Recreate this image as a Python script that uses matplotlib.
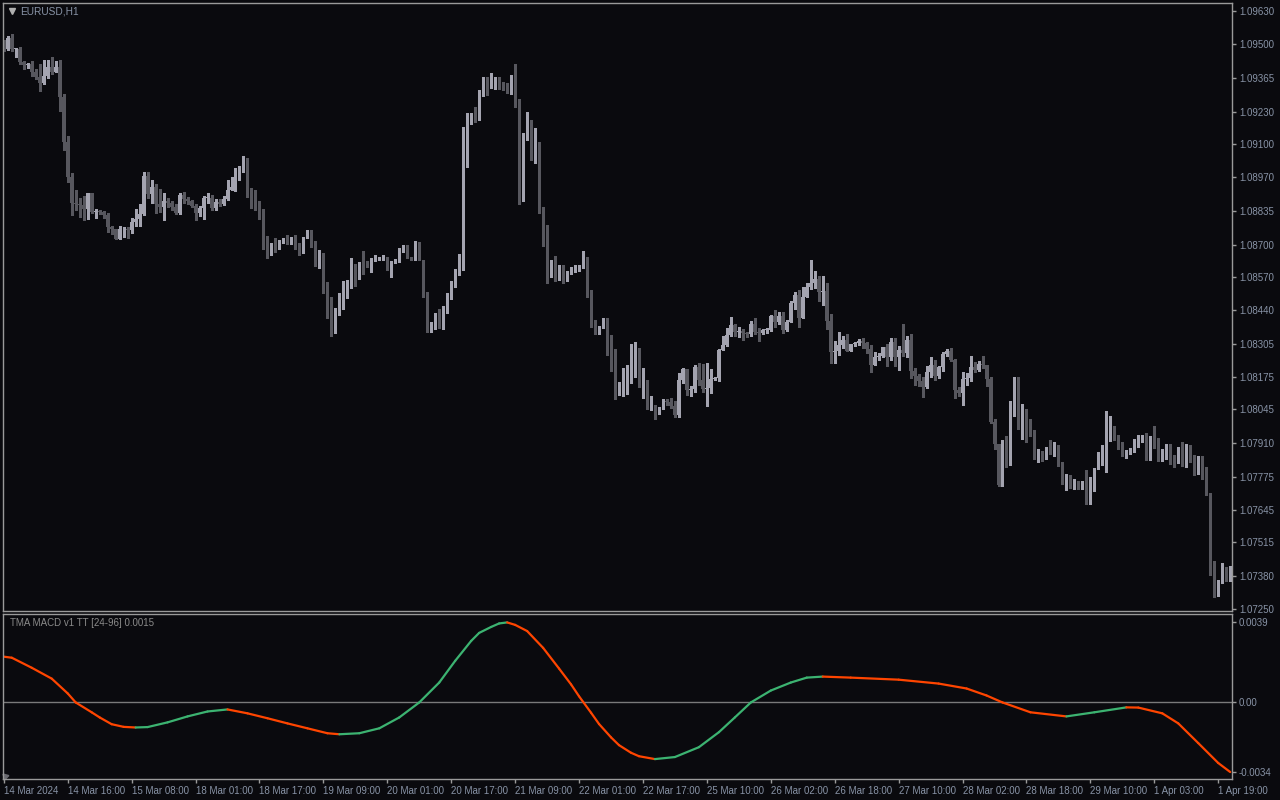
import numpy as np
import matplotlib
matplotlib.use("Agg")
import matplotlib.pyplot as plt

# === 1. Data (EURUSD H1) ===
first_open = 1.09503
close = [
    1.09479, 1.09522, 1.09479, 1.09479, 1.09427, 1.09415, 1.09419, 1.09387, 1.09367, 1.09343,
    1.09371, 1.09407, 1.09387, 1.09407, 1.09287, 1.09108, 1.08968, 1.08865, 1.08861, 1.08857,
    1.08841, 1.08905, 1.08829, 1.08833, 1.08829, 1.08817, 1.08769, 1.08761, 1.08721, 1.08761,
    1.08761, 1.08757, 1.08789, 1.08801, 1.08821, 1.08972, 1.08901, 1.08928, 1.08861, 1.08849,
    1.08873, 1.08865, 1.08849, 1.08825, 1.08897, 1.08881, 1.08873, 1.08853, 1.08825, 1.08845,
    1.08885, 1.08885, 1.08845, 1.08869, 1.08861, 1.08881, 1.08916, 1.08928, 1.08984, 1.08992,
    1.09016, 1.08908, 1.08877, 1.08845, 1.08841, 1.08713, 1.08673, 1.08701, 1.08685, 1.08709,
    1.08717, 1.08705, 1.08725, 1.08681, 1.08669, 1.08725, 1.08733, 1.08693, 1.08629, 1.08665,
    1.08538, 1.08462, 1.08354, 1.08434, 1.08494, 1.08510, 1.08534, 1.08617, 1.08573, 1.08625,
    1.08617, 1.08613, 1.08641, 1.08645, 1.08645, 1.08645, 1.08605, 1.08637, 1.08637, 1.08681,
    1.08689, 1.08653, 1.08645, 1.08693, 1.08641, 1.08510, 1.08378, 1.08390, 1.08418, 1.08414,
    1.08442, 1.08490, 1.08538, 1.08597, 1.08625, 1.09136, 1.09204, 1.09220, 1.09196, 1.09315,
    1.09367, 1.09323, 1.09343, 1.09347, 1.09339, 1.09319, 1.09303, 1.09371, 1.09275, 1.08905,
    1.09124, 1.09188, 1.09088, 1.09108, 1.08845, 1.08777, 1.08594, 1.08602, 1.08566, 1.08617,
    1.08558, 1.08586, 1.08605, 1.08609, 1.08609, 1.08645, 1.08494, 1.08378, 1.08370, 1.08374,
    1.08406, 1.08291, 1.08235, 1.08107, 1.08155, 1.08155, 1.08159, 1.08255, 1.08287, 1.08139,
    1.08151, 1.08047, 1.08051, 1.08027, 1.08047, 1.08079, 1.08075, 1.08059, 1.08023, 1.08163,
    1.08207, 1.08123, 1.08127, 1.08215, 1.08163, 1.08127, 1.08131, 1.08167, 1.08171, 1.08279,
    1.08299, 1.08342, 1.08382, 1.08354, 1.08358, 1.08350, 1.08346, 1.08386, 1.08354, 1.08350,
    1.08362, 1.08362, 1.08418, 1.08394, 1.08418, 1.08362, 1.08394, 1.08466, 1.08498, 1.08410,
    1.08490, 1.08530, 1.08546, 1.08562, 1.08510, 1.08514, 1.08398, 1.08271, 1.08275, 1.08299,
    1.08322, 1.08275, 1.08306, 1.08310, 1.08318, 1.08310, 1.08283, 1.08223, 1.08251, 1.08255,
    1.08291, 1.08251, 1.08314, 1.08251, 1.08279, 1.08267, 1.08322, 1.08199, 1.08179, 1.08159,
    1.08135, 1.08195, 1.08223, 1.08179, 1.08215, 1.08263, 1.08275, 1.08243, 1.08123, 1.08111,
    1.08167, 1.08171, 1.08215, 1.08203, 1.08227, 1.08223, 1.08167, 1.07995, 1.07908, 1.07744,
    1.07884, 1.07828, 1.08075, 1.08103, 1.07991, 1.08003, 1.07983, 1.07951, 1.07862, 1.07870,
    1.07854, 1.07884, 1.07866, 1.07898, 1.07822, 1.07748, 1.07776, 1.07732, 1.07756, 1.07736,
    1.07744, 1.07669, 1.07772, 1.07812, 1.07832, 1.07860, 1.07968, 1.07972, 1.07944, 1.07904,
    1.07862, 1.07866, 1.07878, 1.07898, 1.07926, 1.07926, 1.07854, 1.07922, 1.07898, 1.07854,
    1.07870, 1.07894, 1.07854, 1.07838, 1.07860, 1.07846, 1.07890, 1.07846, 1.07800, 1.07840,
    1.07812, 1.07712, 1.07433, 1.07314, 1.07358, 1.07410, 1.07366, 1.07410,
]

# wick lengths beyond the body, in points (1e-5)
wick_up = [
    12, 8, 16, 4, 8, 4, 4, 12, 12, 52, 64, 28, 40, 24, 28, 12, 24, 16, 52, 24,
    36, 0, 0, 8, 4, 4, 8, 4, 0, 12, 8, 8, 16, 40, 40, 16, 16, 28, 12, 60,
    32, 12, 8, 12, 8, 12, 8, 4, 8, 8, 8, 20, 12, 12, 12, 12, 40, 40, 20, 20,
    36, 28, 16, 40, 28, 0, 20, 4, 24, 8, 8, 20, 4, 12, 24, 4, 24, 24, 20, 12,
    0, 12, 28, 16, 12, 44, 24, 32, 8, 8, 48, 20, 8, 12, 8, 12, 8, 0, 8, 4,
    8, 8, 0, 20, 16, 0, 0, 4, 12, 28, 12, 16, 16, 8, 36, 32, 20, 4, 28, 0,
    0, 0, 40, 20, 20, 8, 24, 4, 48, 4, 20, 40, 8, 56, 0, 4, 0, 36, 52, 4,
    4, 8, 8, 12, 12, 28, 8, 24, 24, 4, 4, 4, 48, 48, 0, 56, 64, 48, 24, 0,
    60, 12, 48, 12, 8, 8, 8, 16, 20, 28, 4, 0, 12, 8, 16, 64, 100, 40, 4, 4,
    36, 28, 32, 4, 16, 8, 4, 12, 24, 16, 4, 8, 4, 24, 16, 16, 8, 8, 12, 20,
    40, 16, 92, 32, 12, 60, 32, 28, 40, 52, 16, 24, 0, 4, 8, 12, 4, 16, 20, 12,
    0, 12, 16, 16, 16, 104, 16, 24, 12, 8, 16, 24, 28, 20, 4, 8, 8, 12, 4, 12,
    28, 20, 40, 20, 12, 28, 0, 8, 12, 0, 40, 56, 4, 72, 72, 64, 44, 24, 12, 16,
    8, 12, 40, 16, 4, 12, 12, 8, 12, 4, 16, 60, 4, 0, 44, 44, 72, 48, 8, 0,
    12, 16, 12, 28, 16, 16, 24, 16, 56, 32, 16, 12, 12, 8, 36, 56, 16, 12, 16, 20,
    20, 4, 0, 8, 8, 24, 8, 12,
]
wick_dn = [
    8, 4, 8, 32, 8, 16, 12, 16, 8, 32, 4, 8, 8, 0, 56, 32, 20, 48, 24, 48,
    44, 40, 4, 24, 8, 12, 20, 20, 0, 0, 32, 32, 12, 16, 28, 4, 16, 36, 36, 20,
    52, 16, 12, 4, 4, 16, 12, 4, 28, 12, 44, 20, 8, 8, 8, 4, 4, 0, 16, 28,
    4, 20, 32, 8, 40, 32, 24, 16, 16, 4, 4, 4, 4, 0, 12, 4, 0, 4, 12, 20,
    32, 52, 16, 4, 12, 48, 24, 8, 36, 8, 32, 0, 20, 4, 4, 4, 4, 32, 8, 4,
    12, 4, 4, 4, 0, 20, 24, 24, 24, 44, 48, 12, 8, 8, 16, 24, 128, 24, 8, 0,
    24, 28, 0, 24, 20, 4, 0, 4, 28, 44, 32, 8, 52, 64, 20, 84, 48, 24, 12, 8,
    12, 4, 4, 12, 12, 0, 4, 4, 24, 24, 4, 32, 36, 20, 4, 56, 48, 8, 80, 4,
    48, 0, 4, 20, 0, 0, 12, 8, 8, 8, 12, 20, 24, 12, 20, 12, 68, 20, 4, 12,
    0, 4, 4, 16, 20, 28, 12, 8, 8, 32, 4, 12, 4, 20, 8, 12, 4, 0, 20, 36,
    0, 0, 8, 20, 36, 52, 32, 40, 40, 16, 12, 0, 0, 8, 8, 20, 16, 28, 0, 8,
    4, 32, 8, 32, 48, 12, 16, 28, 36, 20, 40, 4, 20, 16, 8, 16, 8, 4, 32, 12,
    48, 24, 12, 8, 4, 12, 28, 4, 20, 4, 4, 12, 4, 56, 24, 64, 68, 12, 16, 28,
    16, 8, 0, 8, 4, 0, 24, 0, 4, 8, 8, 0, 0, 52, 4, 8, 64, 48, 20, 16,
    4, 12, 0, 4, 4, 12, 12, 12, 8, 16, 16, 24, 28, 24, 8, 28, 32, 12, 16, 12,
    44, 8, 48, 16, 12, 4, 4, 4,
]

# TMA MACD line, sampled along the bars
macd_bar = [0, 2, 7, 12, 16, 18, 22, 24, 27, 30, 33, 36, 41, 46, 51, 56, 61, 66, 71, 76,
            81, 84, 89, 94, 99, 104, 109, 113, 117, 119, 122, 124, 126, 128, 131, 135,
            139, 142, 144, 147, 149, 152, 154, 157, 159, 163, 168, 174, 179, 183, 187, 192,
            197, 201, 205, 212, 224, 234, 241, 246, 250, 257, 266, 273, 281, 284, 290, 294,
            299, 304, 307]
macd_val = [0.00223, 0.00218, 0.00169, 0.00116, 0.00044, 0.0, -0.00048, -0.00073, -0.00106,
            -0.00119, -0.00122, -0.00120, -0.00097, -0.00068, -0.00044, -0.00034, -0.00053,
            -0.00077, -0.00102, -0.00126, -0.00150, -0.00155, -0.00150, -0.00126, -0.00073,
            0.0, 0.00097, 0.00203, 0.00300, 0.00339, 0.00368, 0.00385, 0.00390, 0.00378,
            0.00348, 0.00266, 0.00165, 0.00088, 0.00030, -0.00050, -0.00105, -0.00170,
            -0.00208, -0.00245, -0.00262, -0.00276, -0.00266, -0.00218, -0.00145, -0.00073,
            0.0, 0.00058, 0.00097, 0.00121, 0.00126, 0.00121, 0.00111, 0.00092, 0.00068,
            0.00034, 0.0, -0.00048, -0.00068, -0.00048, -0.00024, -0.00025, -0.00053,
            -0.00102, -0.00198, -0.00295, -0.00339]

price_ticks = [1.09630, 1.09500, 1.09365, 1.09230, 1.09100, 1.08970, 1.08835, 1.08700,
               1.08570, 1.08440, 1.08305, 1.08175, 1.08045, 1.07910, 1.07775, 1.07645,
               1.07515, 1.07380, 1.07250]
macd_ticks = [0.0039, 0.0, -0.0034]
macd_tick_labels = ["0.0039", "0.00", "-0.0034"]
time_labels = ["14 Mar 2024", "14 Mar 16:00", "15 Mar 08:00", "18 Mar 01:00", "18 Mar 17:00",
               "19 Mar 09:00", "20 Mar 01:00", "20 Mar 17:00", "21 Mar 09:00", "22 Mar 01:00",
               "22 Mar 17:00", "25 Mar 10:00", "26 Mar 02:00", "26 Mar 18:00", "27 Mar 10:00",
               "28 Mar 02:00", "28 Mar 18:00", "29 Mar 10:00", "1 Apr 03:00", "1 Apr 19:00"]
time_label_step = 16

# === 2. Build OHLC ===
close = np.array(close)
opn = np.concatenate([[first_open], close[:-1]])
body_hi = np.maximum(opn, close)
body_lo = np.minimum(opn, close)
high = body_hi + np.array(wick_up) * 1e-5
low = body_lo - np.array(wick_dn) * 1e-5
x = np.arange(len(close))
bull = close >= opn

BG = "#0a0a0e"
FRAME = "#9a9a9a"
TXT = "#8893a6"
BULL = "#a4a4b0"
BEAR = "#57575e"
plt.rcParams["font.family"] = ["Liberation Sans", "DejaVu Sans"]

# === 3. Figure ===
fig = plt.figure(figsize=(12.8, 8), dpi=100, facecolor=BG)
W, H = 1280, 800
ax = fig.add_axes([3 / W, 1 - 611 / H, 1229 / W, 608 / H], facecolor=BG)
ax2 = fig.add_axes([3 / W, 1 - 779 / H, 1229 / W, 165 / H], facecolor=BG)

# candles
col = np.where(bull, BULL, BEAR)
ax.vlines(x, low, high, colors=col, lw=1, antialiased=False)
h = np.maximum(body_hi - body_lo, 3e-5)
ax.bar(x, h, bottom=body_lo, width=0.72, color=col, lw=0, antialiased=False)

ax.set_xlim(-0.2, len(close) - 0.55)
ax.set_ylim(1.07242, 1.09662)

for a in (ax, ax2):
    for s in a.spines.values():
        s.set_color(FRAME)
        s.set_linewidth(1)
    a.yaxis.tick_right()
    a.tick_params(axis="y", colors=FRAME, labelcolor=TXT, length=3, width=1,
                  labelsize=7, pad=2, direction="out")

ax.set_yticks(price_ticks)
ax.set_yticklabels([f"{p:.5f}" for p in price_ticks])
ax.set_xticks([])

ax.text(17 / 1229, 1 - 8 / 608, "EURUSD,H1", transform=ax.transAxes, color=TXT,
        fontsize=7.3, va="center", ha="left")
ax.plot([9 / 1229], [1 - 8 / 608], marker="v", ms=4, color="#b0b0b0",
        transform=ax.transAxes, clip_on=False)

# === 4. MACD panel ===
ax2.axhline(0, color="#7a7a7a", lw=1)
mb = np.array(macd_bar)
mv = np.array(macd_val)
for i in range(len(mb) - 1):
    c = "#3cb371" if mv[i + 1] > mv[i] else "#ff4500"
    ax2.plot(mb[i:i + 2], mv[i:i + 2], color=c, lw=1.6, solid_capstyle="round")

ax2.set_xlim(-0.2, len(close) - 0.55)
ax2.set_ylim(-0.00373, 0.00431)
ax2.set_yticks(macd_ticks)
ax2.set_yticklabels(macd_tick_labels)

ax2.set_xticks(np.arange(len(time_labels)) * time_label_step)
ax2.set_xticklabels(time_labels)
ax2.tick_params(axis="x", colors=FRAME, labelcolor=TXT, length=3, width=1,
                labelsize=7, pad=2, direction="out")
for lab in ax2.get_xticklabels():
    lab.set_horizontalalignment("left")

ax2.text(7 / 1229, 1 - 9 / 165, "TMA MACD v1 TT [24-96] 0.0015", transform=ax2.transAxes,
         color="#8a8a8a", fontsize=7, va="center", ha="left")
ax2.plot([0.002], [0.02], marker=(3, 0, 45), ms=5, color="#6a6a70",
         transform=ax2.transAxes, clip_on=False)

fig.savefig("out.png", dpi=100, facecolor=BG)
